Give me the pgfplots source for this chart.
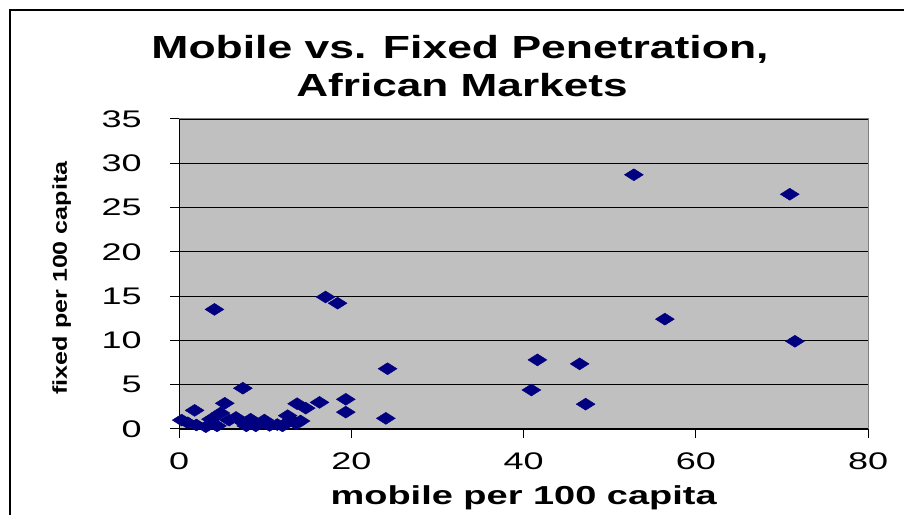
\documentclass[border=0pt]{standalone}
\usepackage{pgfplots}
\pgfplotsset{compat=1.18}
\usepackage{fontspec}
\setmainfont{Liberation Sans}
\definecolor{navyc}{HTML}{000080}
\definecolor{plotgray}{HTML}{C0C0C0}
\definecolor{bordergray}{HTML}{808080}
\begin{document}
\begin{tikzpicture}[x=1pt,y=1pt]
\useasboundingbox (0,0) rectangle (904,514);
\draw[line width=2.5pt] (10,-5) -- (10,504) -- (910,504);
\node[anchor=base,font=\fontsize{32}{38}\selectfont\bfseries] at (460,455) {\scalebox{1.39}[1]{Mobile vs. Fixed Penetration,}};
\node[anchor=base,font=\fontsize{32}{38}\selectfont\bfseries] at (462,417) {\scalebox{1.38}[1]{African Markets}};
\begin{axis}[
  at={(208,96)}, anchor=origin,
  scale only axis, width=689pt, height=310pt,
  xmin=0, xmax=80, ymin=0, ymax=35,
  xtick={0,20,40,60,80}, ytick={0,5,10,15,20,25,30,35},
  /pgf/number format/assume math mode=true,
  axis background/.style={fill=plotgray, draw=bordergray, line width=1pt},
  axis x line=bottom, axis y line=left,
  axis line style={-, black, line width=1pt},
  tick align=outside, major tick length=9pt,
  tick style={black, line width=1pt},
  ymajorgrids=true,
  grid style={black, line width=0.8pt},
  tick label style={font=\fontsize{24}{28}\selectfont},
  xticklabel style={yshift=-11pt},
  yticklabel style={xshift=-25pt},
  xticklabel={\scalebox{1.5}[1]{\pgfmathprintnumber{\tick}}},
  yticklabel={\scalebox{1.5}[1]{\pgfmathprintnumber{\tick}}},
  xlabel={\scalebox{1.46}[1]{mobile per 100 capita}},
  xlabel style={font=\fontsize{26}{30}\selectfont\bfseries, at={(axis description cs:0.5,-0.2452)}, anchor=base},
  ylabel={\scalebox{1.255}[1]{fixed per 100 capita}},
  ylabel style={font=\fontsize{20}{24}\selectfont\bfseries, at={(axis description cs:-0.1705,0.487)}, anchor=center},
  clip=false,
]
\addplot[only marks, mark=diamond*, mark size=6pt, color=navyc, mark options={xscale=2.1, line width=0.4pt}] table {
x y
52.8 28.7
70.9 26.5
56.4 12.4
71.5 9.9
41.6 7.8
46.5 7.35
40.9 4.4
47.2 2.8
24.2 6.8
24.0 1.2
19.35 3.35
19.35 1.9
16.3 3.0
4.1 13.5
17.0 14.9
18.4 14.2
7.4 4.6
13.7 2.85
14.7 2.35
5.3 2.9
1.8 2.1
4.8 1.8
0.3 1.0
1.0 0.7
2.0 0.45
3.1 0.25
3.7 1.1
4.4 0.35
5.8 1.0
6.6 1.3
7.5 0.7
7.8 0.35
8.3 1.1
8.9 0.35
9.9 1.0
10.5 0.4
11.4 0.5
12.0 0.35
12.6 1.5
13.0 1.0
13.6 0.6
14.1 0.9
};
\end{axis}
\end{tikzpicture}
\end{document}
